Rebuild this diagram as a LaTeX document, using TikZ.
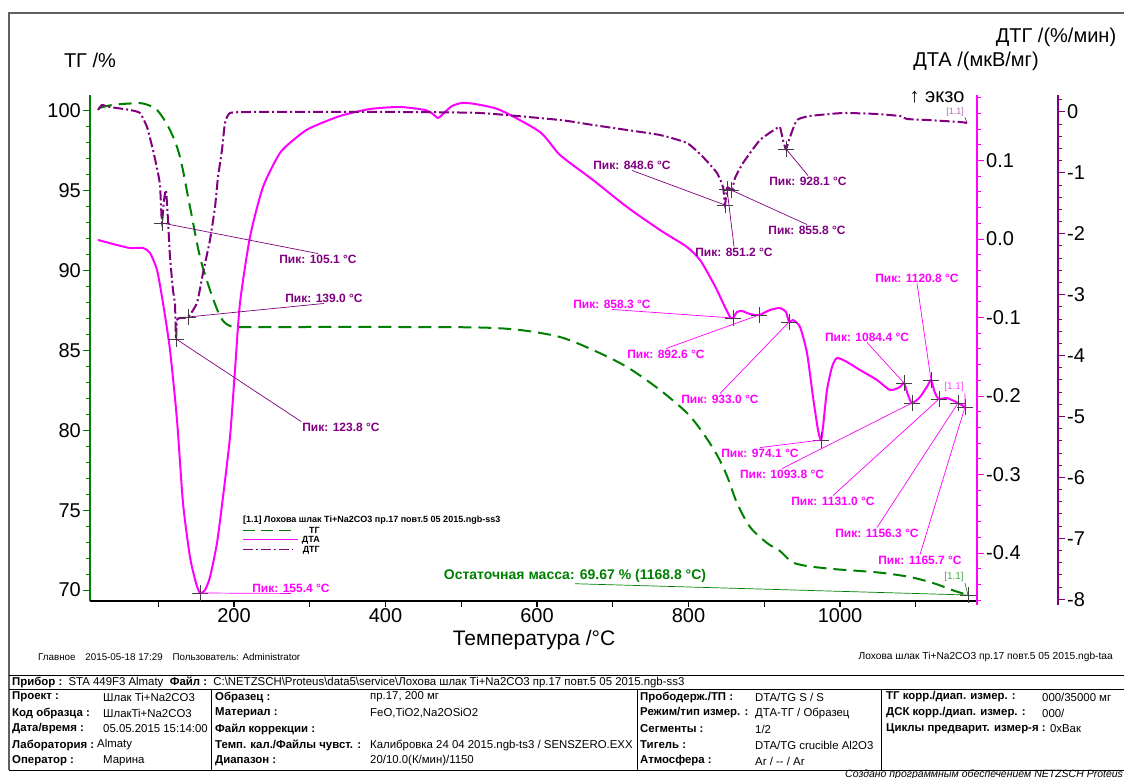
\documentclass[tikz,border=0pt]{standalone}
\usepackage{fontspec}
\setmainfont{Liberation Sans}
\usetikzlibrary{shapes.misc}
\definecolor{tgcol}{RGB}{0,128,0}
\definecolor{dtacol}{RGB}{255,0,255}
\definecolor{dtgcol}{RGB}{128,0,128}
\definecolor{framecol}{RGB}{96,96,96}
\def\fsz#1{\fontsize{#1}{#1}\selectfont}
\def\pik#1{Пик: #1~°C}

\tikzset{
  pkmark/.style={draw=black!75, cross out, rotate=45, minimum size=10pt, inner sep=0pt, line width=0.7pt},
  dtglbl/.style={text=dtgcol, font=\bfseries\fsz{12}, inner sep=1pt},
  dtalbl/.style={text=dtacol, font=\bfseries\fsz{12}, inner sep=1pt},
  dtglead/.style={dtgcol, line width=0.7pt},
  dtalead/.style={dtacol, line width=0.7pt},
  tbllbl/.style={anchor=west, font=\bfseries\fsz{11.4}, inner sep=0pt},
  tblval/.style={anchor=west, font=\fsz{11.4}, inner sep=0pt},
  axnum/.style={font=\fsz{20}, inner sep=1pt},
  tagtxt/.style={font=\fsz{10}, inner sep=1pt},
}

\begin{document}
\begin{tikzpicture}[x=1pt, y=-1pt]
		%%%%% START %%%%%
		\useasboundingbox[fill=white] (0,0) rectangle (1124,778);
		\draw[framecol, line width=1.2pt] (9,770) -- (9,13) -- (1124,13);
		
		% axes
		\draw[tgcol, line width=1.5pt] (90,95) -- (90,601);
		\foreach \v in {70,...,100} \draw[tgcol, line width=1pt] (90,{111+(100-\v)*15.97}) -- ++(-4,0);
		\foreach \v in {70,75,...,100} {
			\draw[tgcol, line width=1pt] (90,{111+(100-\v)*15.97}) -- ++(-7,0);
			\node[axnum, anchor=east] (tg\v) at (82,{111+(100-\v)*15.97}) {\v};
		}
		
		\draw[line width=2pt] (90,601) -- (977,601);
		\foreach \t in {100,200,...,1100} \draw[line width=1.2pt] ({82.5+\t*0.7575},601) -- ++(0,6);
		\foreach \t in {200,400,...,1000} \node[axnum, anchor=north] (tt\t) at ({82.5+\t*0.7575},607) {\t};
		
		\draw[dtacol, line width=1.5pt] (977,95) -- (977,605);
		\foreach \i in {-23,...,9} \draw[dtacol, line width=1pt] (977,{239-\i*15.7}) -- ++(4,0);
		\foreach \i/\t/\n in {5/0.1/a, 0/0.0/b, -5/-0.1/c, -10/-0.2/d, -15/-0.3/e, -20/-0.4/f} {
			\draw[dtacol, line width=1pt] (977,{239-\i*15.7}) -- ++(7,0);
			\node[axnum, anchor=west] (da\n) at (985,{239-\i*15.7}) {\t};
		}
		
		\draw[dtgcol, line width=1.5pt] (1058,95) -- (1058,605);
		\foreach \i in {-40,...,1} \draw[dtgcol, line width=1pt] (1058,{112-\i*12.18}) -- ++(4,0);
		\foreach \v in {0,...,8} {
			\draw[dtgcol, line width=1pt] (1058,{112+\v*60.9}) -- ++(7,0);
			\node[axnum, anchor=west] (dg\v) at (1066,{112+\v*60.9}) {\ifnum\v=0 0\else-\v\fi};
		}
		
		\node[font=\fsz{20}] (tgtitle) at (90,60) {ТГ /\%};
		\node[font=\fsz{20}] (dtgtitle) at (1056,37) {ДТГ /(\%/мин)};
		\node[font=\fsz{20}] (dtatitle) at (976,61) {ДТА /(мкВ/мг)};
		\node[font=\fsz{20}] (exo) at (937,97) {↑ экзо};
		\node[font=\fsz{21}] (xtitle) at (534,640) {Температура /°C};
		
		% curves
		\draw[tgcol, line width=2pt, dash pattern=on 13pt off 7pt] plot[smooth, tension=0.5] coordinates {
			(99,108) (112,105) (130,103.5) (143,103.5) (157,110) (170,130) (180,157) (190,207) (200,257)
			(210,290) (220,316) (228,325) (240,327) (300,327) (400,327) (480,327.5) (520,330) (560,337)
			(593,350) (627,367) (660,390) (687,413) (703,433) (717,455) (727,476) (737,503) (750,527)
			(767,543) (780,551) (792,562) (807,566) (833,569) (860,571) (883,573) (910,577) (933,583)
			(955,591) (968,595)};
		
		\draw[dtacol, line width=2pt] plot[smooth, tension=0.4] coordinates {
			(98,240) (117,245) (130,248) (143,248) (150,253) (157,270) (163,303) (170,350) (177,420)
			(183,503) (190,557) (196,583) (200,593) (205,590) (210,577) (217,543) (223,497) (230,437)
			(235,370) (240,303) (250,237) (263,187) (280,153) (297,137) (310,128) (340,116) (370,109)
			(400,107) (425,110) (433,114) (438,118) (444,113) (452,106) (462,103) (475,104) (500,110)
			(540,132) (560,155) (593,180) (627,207) (660,230) (687,247) (700,260) (710,277) (717,290)
			(723,303) (730,317) (733,318) (737,312) (742,311) (750,314) (759,315) (770,310) (780,308)
			(786,312) (789,322) (793,320) (800,327) (807,353) (813,397) (818,430) (821,440) (823,427)
			(827,390) (832,367) (837,358) (847,362) (860,370) (877,380) (890,390) (900,387) (904,383)
			(908,395) (912,403) (920,397) (928,385) (931,380) (935,393) (939,399) (947,398) (958,403)
			(965,407)};
		
		\draw[dtgcol, line width=2pt, dash pattern=on 10pt off 3pt on 2pt off 3pt] plot[smooth, tension=0.3] coordinates {
			(98,110) (102,105) (110,107) (130,110) (140,113) (147,127) (153,150) (158,173) (160,185)
			(161,205) (162,223) (164,200) (166,190) (168,220) (170,257) (173,290) (175,305) (176,339)
			(177,320) (180,318) (188,317) (197,303) (203,273) (210,240) (215,207) (218,177) (222,150)
			(225,123) (230,113) (250,112) (310,112) (400,112) (480,113) (560,120) (593,125) (627,130)
			(660,135) (687,143) (703,157) (717,173) (723,187) (725,205) (727,188) (729,188) (732,190)
			(735,178) (743,163) (760,140) (777,128) (780,127) (783,140) (786,149) (790,137) (797,120)
			(810,116) (843,113) (877,114) (900,116) (903,117) (907,119) (927,120) (960,122) (967,123)};
		
		% peaks DTG
		\node[pkmark] (m1051) at (162,223) {};
		\node[pkmark] (m1238) at (176,339) {};
		\node[pkmark] (m1390) at (188,317) {};
		\node[pkmark] (m8486) at (725,205) {};
		\node[pkmark] (m8512) at (727,189) {};
		\node[pkmark] (m8558) at (731,190) {};
		\node[pkmark] (m9281) at (786,149) {};
		\node[dtglbl] (l1051) at (318,259) {\pik{105.1}};
		\node[dtglbl] (l1390) at (324,298) {\pik{139.0}};
		\node[dtglbl] (l1238) at (341,427) {\pik{123.8}};
		\node[dtglbl] (l8486) at (632,165) {\pik{848.6}};
		\node[dtglbl] (l8512) at (734,252) {\pik{851.2}};
		\node[dtglbl] (l8558) at (807,230) {\pik{855.8}};
		\node[dtglbl] (l9281) at (808,181) {\pik{928.1}};
		\draw[dtglead] (l1051.north) -- (m1051.center);
		\draw[dtglead] (l1390.south) -- (m1390.center);
		\draw[dtglead] (l1238.north west) -- (m1238.center);
		\draw[dtglead] (l8486.south) -- (m8486.center);
		\draw[dtglead] (l8512.north) -- (m8512.center);
		\draw[dtglead] (l8558.north) -- (m8558.center);
		\draw[dtglead] (l9281.north) -- (m9281.center);
		
		% peaks DTA
		\node[pkmark] (m1554) at (200,593) {};
		\node[pkmark] (m8583) at (733,318) {};
		\node[pkmark] (m8926) at (759,315) {};
		\node[pkmark] (m9330) at (789,322) {};
		\node[pkmark] (m9741) at (821,440) {};
		\node[pkmark] (m10844) at (904,383) {};
		\node[pkmark] (m10938) at (912,403) {};
		\node[pkmark] (m11208) at (931,380) {};
		\node[pkmark] (m11310) at (939,399) {};
		\node[pkmark] (m11563) at (958,403) {};
		\node[pkmark] (m11657) at (965,407) {};
		\node[dtalbl] (l1554) at (291,588) {\pik{155.4}};
		\node[dtalbl] (l8583) at (612,304) {\pik{858.3}};
		\node[dtalbl] (l8926) at (666,354) {\pik{892.6}};
		\node[dtalbl] (l9330) at (720,399) {\pik{933.0}};
		\node[dtalbl] (l9741) at (760,453) {\pik{974.1}};
		\node[dtalbl] (l10844) at (867,337) {\pik{1084.4}};
		\node[dtalbl] (l10938) at (782,474) {\pik{1093.8}};
		\node[dtalbl] (l11208) at (917,278) {\pik{1120.8}};
		\node[dtalbl] (l11310) at (833,501) {\pik{1131.0}};
		\node[dtalbl] (l11563) at (877,533) {\pik{1156.3}};
		\node[dtalbl] (l11657) at (920,560) {\pik{1165.7}};
		\draw[dtalead] (m1554.center) -- (l1554.south);
		\draw[dtalead] (l8583.south) -- (m8583.center);
		\draw[dtalead] (l8926.north) -- (m8926.center);
		\draw[dtalead] (l9330.north) -- (m9330.center);
		\draw[dtalead] (l9741.north) -- (m9741.center);
		\draw[dtalead] (l10844.south) -- (m10844.center);
		\draw[dtalead] (l10938.north) -- (m10938.center);
		\draw[dtalead] (l11208.south) -- (m11208.center);
		\draw[dtalead] (l11310.north) -- (m11310.center);
		\draw[dtalead] (l11563.north) -- (m11563.center);
		\draw[dtalead] (l11657.north) -- (m11657.center);
		
		% residual mass and curve tags
		\node[pkmark] (mend) at (968,595) {};
		\node[text=tgcol, font=\bfseries\fsz{14}, inner sep=1pt] (lres) at (575,576) {Остаточная масса: 69.67 \% (1168.8 °C)};
		\draw[tgcol, line width=0.7pt] (lres.south) -- (mend.center);
		\node[tagtxt, text=tgcol!70] (tagtg) at (954,577) {[1.1]};
		\node[tagtxt, text=dtacol!70] (tagdta) at (954,387) {[1.1]};
		\node[tagtxt, text=dtgcol!60, font=\fsz{9}] (tagdtg) at (955,112) {[1.1]};
		\draw[tgcol, line width=0.6pt] (tagtg.south east) -- (mend.center);
		\draw[dtacol, line width=0.6pt] (tagdta.south east) -- (m11657.center);
		\coordinate (dtgend) at (967,123);
		\draw[dtgcol, line width=0.6pt] (tagdtg.south east) -- (dtgend);
		
		% legend
		\node[anchor=west, font=\bfseries\fsz{9}, inner sep=0pt] (legtitle) at (243,520) {[1.1] Лохова шлак Ti+Na2CO3 пр.17 повт.5 05 2015.ngb-ss3};
		\draw[tgcol, line width=1pt, dash pattern=on 12pt off 6pt] (243,530) -- (296,530);
		\draw[dtacol, line width=1pt] (243,539) -- (298,539);
		\draw[dtgcol, line width=1pt, dash pattern=on 10pt off 3pt on 2pt off 3pt] (243,549) -- (293,549);
		\node[anchor=east, font=\bfseries\fsz{9}, inner sep=0pt] (legtg) at (320,530) {ТГ};
		\node[anchor=east, font=\bfseries\fsz{9}, inner sep=0pt] (legdta) at (320,540) {ДТА};
		\node[anchor=east, font=\bfseries\fsz{9}, inner sep=0pt] (legdtg) at (320,550) {ДТГ};
		
		% footer
		\node[anchor=west, font=\fsz{9.8}, inner sep=0pt] (foot1) at (38,657) {Главное\quad 2015-05-18 17:29\quad Пользователь: Administrator};
		\node[anchor=east, font=\fsz{10.2}, inner sep=0pt] (foot2) at (1113,657) {Лохова шлак Ti+Na2CO3 пр.17 повт.5 05 2015.ngb-taa};
		
		% table
		\draw[line width=1pt] (9,675) -- (1124,675);
		\draw[line width=1pt] (9,689) -- (1124,689);
		\draw[line width=1pt] (9,770) -- (1124,770);
		\foreach \x in {211,637,881} \draw[line width=1pt] (\x,689) -- (\x,770);
		\node[tblval] (pribor) at (12,682) {\textbf{Прибор :}\ \ STA 449F3 Almaty\ \ \textbf{Файл :}\ \ C:\textbackslash NETZSCH\textbackslash Proteus\textbackslash data5\textbackslash service\textbackslash Лохова шлак Ti+Na2CO3 пр.17 повт.5 05 2015.ngb-ss3};
		
		\node[tbllbl] (k1) at (12,697) {Проект :};
		\node[tbllbl] (k2) at (12,713) {Код образца :};
		\node[tbllbl] (k3) at (12,729) {Дата/время :};
		\node[tbllbl] (k4) at (12,745) {Лаборатория :};
		\node[tbllbl] (k5) at (12,761) {Оператор :};
		\node[tblval] (v1) at (103,697) {Шлак Ti+Na2CO3};
		\node[tblval] (v2) at (103,713) {ШлакTi+Na2CO3};
		\node[tblval] (v3) at (103,729) {05.05.2015 15:14:00};
		\node[tblval] (v4) at (97,745) {Almaty};
		\node[tblval] (v5) at (103,761) {Марина};
		
		\node[tbllbl] (k6) at (215,697) {Образец :};
		\node[tbllbl] (k7) at (215,713) {Материал :};
		\node[tbllbl] (k8) at (215,729) {Файл коррекции :};
		\node[tbllbl] (k9) at (215,745) {Темп. кал./Файлы чувст. :};
		\node[tbllbl] (k10) at (215,761) {Диапазон :};
		\node[tblval] (v6) at (370,697) {пр.17, 200 мг};
		\node[tblval] (v7) at (370,713) {FeO,TiO2,Na2OSiO2};
		\node[tblval] (v9) at (370,745) {Калибровка 24 04 2015.ngb-ts3 / SENSZERO.EXX};
		\node[tblval] (v10) at (370,761) {20/10.0(К/мин)/1150};
		
		\node[tbllbl] (k11) at (640,697) {Прободерж./ТП :};
		\node[tbllbl] (k12) at (640,713) {Режим/тип измер. :};
		\node[tbllbl] (k13) at (640,729) {Сегменты :};
		\node[tbllbl] (k14) at (640,745) {Тигель :};
		\node[tbllbl] (k15) at (640,761) {Атмосфера :};
		\node[tblval] (v11) at (755,697) {DTA/TG S / S};
		\node[tblval] (v12) at (755,713) {ДТА-ТГ / Образец};
		\node[tblval] (v13) at (755,729) {1/2};
		\node[tblval] (v14) at (755,745) {DTA/TG crucible Al2O3};
		\node[tblval] (v15) at (755,761) {Ar / {-}{-} / Ar};
		
		\node[tbllbl] (k16) at (886,697) {ТГ корр./диап. измер. :};
		\node[tbllbl] (k17) at (886,713) {ДСК корр./диап. измер. :};
		\node[tbllbl] (k18) at (886,729) {Циклы предварит. измер-я :};
		\node[tblval] (v16) at (1042,697) {000/35000 мг};
		\node[tblval] (v17) at (1042,713) {000/};
		\node[tblval, right=4pt] (v18) at (k18.east) {0xВак};
		
		\node[anchor=west, font=\itshape\fsz{10.5}, inner sep=0pt] (made) at (845,775) {Создано программным обеспечением NETZSCH Proteus};
		%%%%% END %%%%%
\end{tikzpicture}
\end{document}
